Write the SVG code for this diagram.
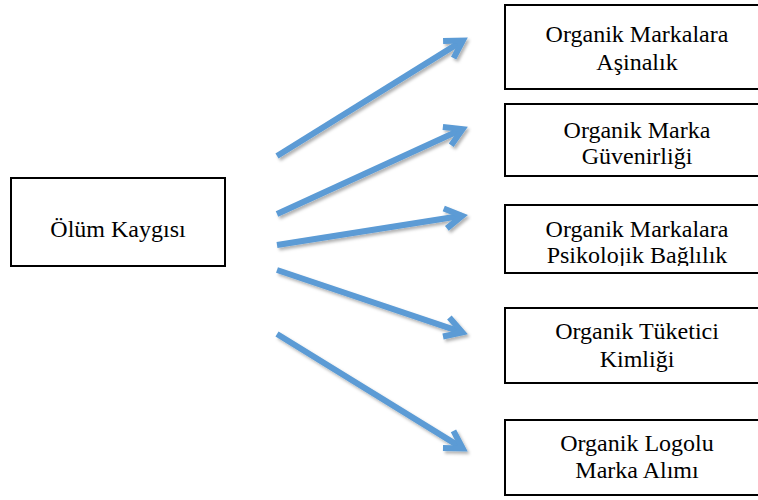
<svg xmlns="http://www.w3.org/2000/svg" width="758" height="500" viewBox="0 0 758 500">
<style>
.box{fill:#fff;stroke:#000;stroke-width:2}
.t{font-family:'Liberation Serif','Times New Roman',serif;font-size:24px;fill:#000;text-anchor:middle}
.arr{stroke:#5b9bd5;stroke-width:6;fill:none;marker-end:url(#ah)}
</style>
<defs>
<marker id="ah" markerUnits="userSpaceOnUse" orient="auto" refX="0" refY="0" markerWidth="40" markerHeight="40" viewBox="-30 -20 40 40" overflow="visible">
<path d="M-17,-10 L0,0 L-17,10" fill="none" stroke="#5b9bd5" stroke-width="6" stroke-linejoin="miter"/>
</marker>
<filter id="sh" x="-10%" y="-10%" width="130%" height="130%">
<feDropShadow dx="2" dy="2.5" stdDeviation="1.5" flood-color="#000" flood-opacity="0.3"/>
</filter>
<clipPath id="c3"><rect x="505" y="205" width="260" height="61"/></clipPath>
</defs>
<rect width="758" height="500" fill="#fff"/>
<g id="connectors" filter="url(#sh)">
<line class="arr" x1="277" y1="156" x2="462.8" y2="40.6"/>
<line class="arr" x1="277" y1="214" x2="462.5" y2="129.1"/>
<line class="arr" x1="277" y1="245" x2="462.1" y2="215.8"/>
<line class="arr" x1="277" y1="270" x2="462.3" y2="332.4"/>
<line class="arr" x1="277" y1="334" x2="462.7" y2="448.4"/>
</g>
<g id="olum">
<rect class="box" x="11" y="178" width="214" height="88"/>
<text class="t" x="118" y="237">Ölüm Kaygısı</text>
</g>
<g id="asinalik">
<rect class="box" x="505" y="5" width="265" height="84"/>
<text class="t" x="637" y="42">Organik Markalara</text>
<text class="t" x="637" y="70">Aşinalık</text>
</g>
<g id="guvenirlik">
<rect class="box" x="505" y="104" width="265" height="72"/>
<text class="t" x="637" y="138">Organik Marka</text>
<text class="t" x="637" y="164">Güvenirliği</text>
</g>
<g id="baglilik">
<rect class="box" x="505" y="205" width="265" height="68"/>
<g clip-path="url(#c3)">
<text class="t" x="637" y="237">Organik Markalara</text>
<text class="t" x="637" y="263">Psikolojik Bağlılık</text>
</g>
</g>
<g id="kimlik">
<rect class="box" x="505" y="308" width="265" height="75"/>
<text class="t" x="637" y="339">Organik Tüketici</text>
<text class="t" x="637" y="367">Kimliği</text>
</g>
<g id="alim">
<rect class="box" x="505" y="420" width="265" height="75"/>
<text class="t" x="637" y="451">Organik Logolu</text>
<text class="t" x="637" y="478">Marka Alımı</text>
</g>
</svg>
